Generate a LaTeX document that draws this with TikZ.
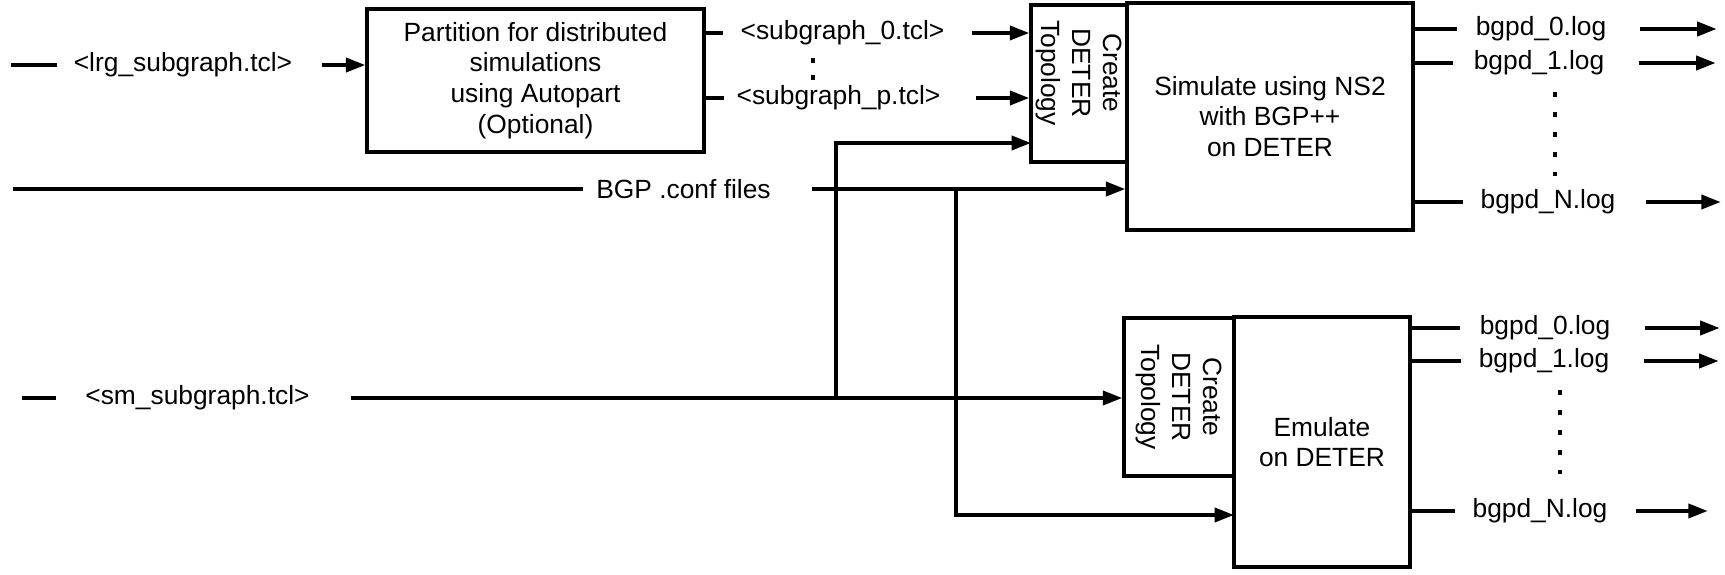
\documentclass[tikz,border=0pt]{standalone}
\usepackage{fontspec}
\setmainfont{Liberation Sans}
\usetikzlibrary{arrows.meta}

\begin{document}
\begin{tikzpicture}[x=0.02cm,y=-0.02cm,
  every node/.style={font=\fontsize{15}{17.5}\selectfont},
  box/.style={draw,line width=2pt,inner sep=0pt,align=center},
  lbl/.style={inner sep=0pt},
  wire/.style={line width=2pt},
  arr/.style={line width=2pt,-{Triangle[length=11pt,width=8pt]}},
  dotcol/.style={line width=2pt,dash pattern=on 3pt off 8.4pt}]
\path[use as bounding box] (0,0) rectangle (1725,575);
% boxes
\node[box,minimum width=6.74cm,minimum height=2.86cm] (part) at (535.5,80.5) {Partition for distributed\\simulations\\using Autopart\\(Optional)};
\node[box,minimum width=1.92cm,minimum height=3.14cm] (crt1) at (1079,83.5) {};
\node[lbl,rotate=-90,align=center] at (1079,73) {Create\\DETER\\Topology};
\node[box,minimum width=5.72cm,minimum height=4.54cm] (sim) at (1270,116.5) {Simulate using NS2\\with BGP++\\on DETER};
\node[box,minimum width=2.2cm,minimum height=3.16cm] (crt2) at (1179,397) {};
\node[lbl,rotate=-90,align=center] at (1179,397) {Create\\DETER\\Topology};
\node[box,minimum width=3.52cm,minimum height=5cm] (emu) at (1322,442) {Emulate\\on DETER};
% large topology input
\coordinate (lrgin) at (11,65);
\node[lbl] (lrg) at (183,65) {<lrg\_subgraph.tcl>};
\draw[wire] (lrgin) -- ([xshift=-.34cm]lrg.west);
\draw[arr] ([xshift=.6cm]lrg.east) -- (lrg -| part.west);
% partitions
\node[lbl] (sgz) at (842.5,33) {<subgraph\_0.tcl>};
\node[lbl] (sgp) at (838.5,98) {<subgraph\_p.tcl>};
\draw[wire] (part.east |- sgz) -- ([xshift=-.34cm]sgz.west);
\draw[wire] (part.east |- sgp) -- ([xshift=-.24cm]sgp.west);
\draw[arr] ([xshift=.54cm]sgz.east) -- (sgz -| crt1.west);
\draw[arr] ([xshift=.7cm]sgp.east) -- (sgp -| crt1.west);
\draw[line width=2pt,dash pattern=on 3pt off 6.5pt] (813,58) -- (813,81);
% config files
\coordinate (bgpin) at (13,189);
\node[lbl] (bgp) at (683.5,189) {BGP .conf files};
\draw[wire] (bgpin) -- ([xshift=-.26cm]bgp.west);
\draw[arr] ([xshift=.82cm]bgp.east) -- (bgp -| sim.west);
\coordinate (bgpsplit) at (956,189);
\coordinate (emuin) at (1234,515);
\draw[arr] (bgpsplit) |- (emuin);
% small topology input
\coordinate (smin) at (22,398);
\node[lbl] (sm) at (197.5,398) {<sm\_subgraph.tcl>};
\draw[wire] (smin) -- ([xshift=-.58cm]sm.west);
\draw[arr] ([xshift=.82cm]sm.east) -- (sm -| crt2.west);
\coordinate (smsplit) at (836,398);
\coordinate (crt1in) at (1031,143);
\draw[arr] (smsplit) |- (crt1in);
% simulation logs
\node[lbl] (s0) at (1541,29) {bgpd\_0.log};
\node[lbl] (s1) at (1539,63) {bgpd\_1.log};
\node[lbl] (sN) at (1548,202) {bgpd\_N.log};
\draw[wire] (sim.east |- s0) -- ([xshift=-.36cm]s0.west);
\draw[wire] (sim.east |- s1) -- ([xshift=-.4cm]s1.west);
\draw[wire] (sim.east |- sN) -- ([xshift=-.34cm]sN.west);
\draw[arr] ([xshift=.66cm]s0.east) -- ++(1.54cm,0);
\draw[arr] ([xshift=.68cm]s1.east) -- ++(1.54cm,0);
\draw[arr] ([xshift=.6cm]sN.east) -- ++(1.5cm,0);
\draw[dotcol] (1555,92) -- (1555,176);
% emulation logs
\node[lbl] (e0) at (1545,328) {bgpd\_0.log};
\node[lbl] (e1) at (1544,361) {bgpd\_1.log};
\node[lbl] (eN) at (1540,511) {bgpd\_N.log};
\draw[wire] (emu.east |- e0) -- ([xshift=-.38cm]e0.west);
\draw[wire] (emu.east |- e1) -- ([xshift=-.34cm]e1.west);
\draw[wire] (emu.east |- eN) -- ([xshift=-.34cm]eN.west);
\draw[arr] ([xshift=.68cm]e0.east) -- ++(1.5cm,0);
\draw[arr] ([xshift=.68cm]e1.east) -- ++(1.5cm,0);
\draw[arr] ([xshift=.56cm]eN.east) -- ++(1.44cm,0);
\draw[dotcol] (1560,390) -- (1560,474);
\end{tikzpicture}
\end{document}
